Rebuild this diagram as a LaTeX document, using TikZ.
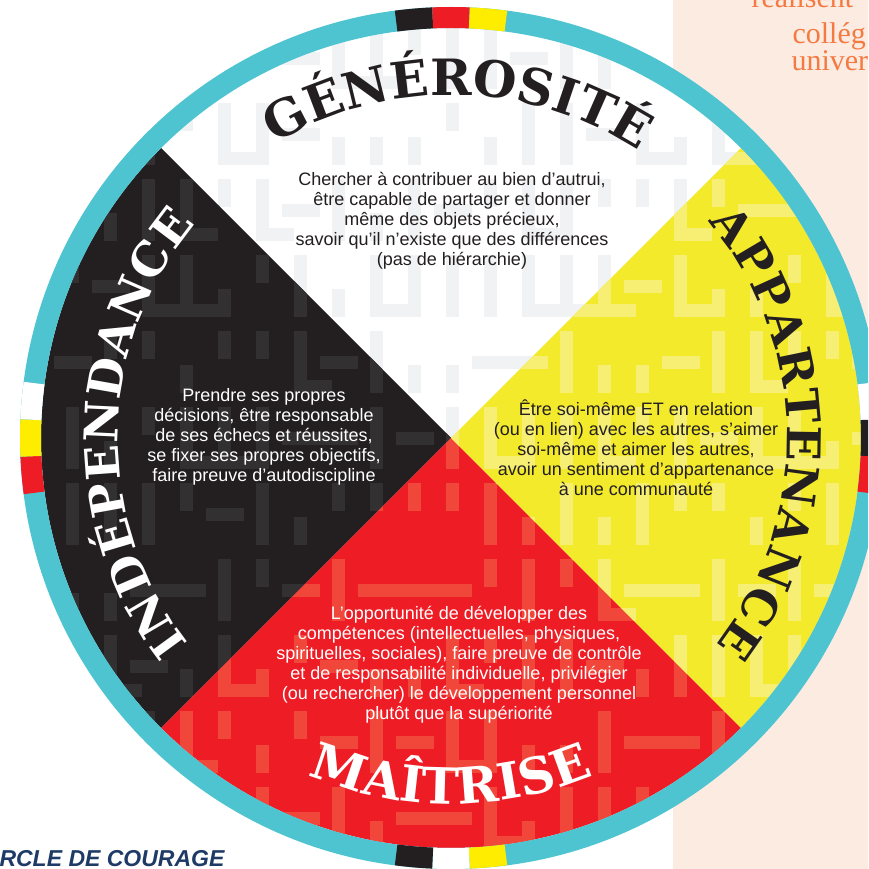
\documentclass[tikz,border=0pt]{standalone}
\usepackage{fontspec}
\setmainfont{Liberation Sans}
\newfontfamily\wheelfont{DejaVu Serif}
\newfontfamily\notefont{Liberation Serif}
\usetikzlibrary{decorations.text}
\definecolor{ringteal}{HTML}{4FC4D1}
\definecolor{wblack}{HTML}{231F20}
\definecolor{wred}{HTML}{EE1C25}
\definecolor{wyellow}{HTML}{F4EA2C}
\definecolor{mkyellow}{HTML}{FFED00}
\definecolor{mazeW}{HTML}{F1F2F4}
\definecolor{mazeK}{HTML}{323031}
\definecolor{mazeR}{HTML}{F1473A}
\definecolor{mazeY}{HTML}{F7EF74}
\definecolor{panel}{HTML}{FBEBE1}
\definecolor{noteorange}{HTML}{F47A42}
\definecolor{navy}{HTML}{1E3A66}
\newcommand\titlesize{\wheelfont\bfseries\fontsize{50}{50}\selectfont}
\newcommand\titlesizelong{\wheelfont\bfseries\fontsize{46.5}{46.5}\selectfont}
% maze of light bars, same layout in every quarter
\newcommand\mazebars[1]{%
  \pgfmathsetseed{2718}%
  \foreach \i in {0,...,22}{%
    \foreach \j in {0,...,11}{%
      \pgfmathrandominteger{\mz}{0}{4}%
      \ifcase\mz\relax
        \fill[#1] (28+38*\i,20+76*\j) rectangle ++(13,62);
      \or
        \fill[#1] (28+38*\i,20+76*\j) rectangle ++(13,28);
      \or
        \fill[#1] (28+38*\i,54+76*\j) rectangle ++(13,28);
      \or
        \fill[#1] (16+38*\i,44+76*\j) rectangle ++(38,13);
      \else
        \fill[#1] (28+38*\i,20+76*\j) rectangle ++(13,62);
        \fill[#1] (41+38*\i,20+76*\j) rectangle ++(25,13);
      \fi
    }%
  }%
}
\begin{document}
\begin{tikzpicture}[x=1pt,y=1pt,
  bodytext/.style={align=center,font=\fontsize{18}{20}\selectfont},
  wheeltitle/.style={decorate,decoration={text along path,text align={fit to path}}}
  ]
\useasboundingbox (0,0) rectangle (868,869);
\clip (0,0) rectangle (868,869);
% side panel
\fill[panel] (673,0) rectangle (868,869);
\node[anchor=base west,text=noteorange,font=\notefont\fontsize{30}{30}\selectfont] (note1) at (748,861) {réalisent};
\node[anchor=base west,text=noteorange,font=\notefont\fontsize{30}{30}\selectfont] (note2) at (789,825) {collég};
\node[anchor=base west,text=noteorange,font=\notefont\fontsize{30}{30}\selectfont] (note3) at (788,798) {univer};
\node[anchor=base west,text=navy,font=\bfseries\itshape\fontsize{23}{23}\selectfont] (caption) at (-4,2) {RCLE DE COURAGE};
% wheel
\coordinate (c) at (451,431);
\foreach \ang/\base/\bar in {90/white/mazeW,180/wblack/mazeK,270/wred/mazeR,0/wyellow/mazeY}{
  \begin{scope}
    \clip (c) -- ([shift={(\ang-45:410)}]c) arc[start angle=\ang-45,end angle=\ang+45,radius=410] -- cycle;
    \fill[\base] (c) circle[radius=415];
    \mazebars{\bar}
  \end{scope}
}
\draw[ringteal,line width=21] (c) circle[radius=420.5];
\foreach \ang/\col in {97.5/wblack,92.5/wred,87.5/mkyellow,
                       7.5/white,2.5/wblack,-2.5/wred,
                       187.5/wred,182.5/mkyellow,177.5/white,
                       277.5/mkyellow,272.5/white,267.5/wblack}
  \draw[\col,line width=21] ([shift={(\ang:420.5)}]c) arc[start angle=\ang,end angle=\ang-5,radius=420.5];
% titles on arcs
\path[wheeltitle,decoration={text color=wblack,text={|\titlesize|GÉNÉROSITÉ}}]
  ([shift={(121:343)}]c) arc[start angle=121,end angle=58,radius=343];
\path[wheeltitle,decoration={text color=white,text={|\titlesizelong|INDÉPENDANCE}}]
  ([shift={(218:333)}]c) arc[start angle=218,end angle=140,radius=333];
\path[wheeltitle,decoration={text color=wblack,text={|\titlesizelong|APPARTENANCE}}]
  ([shift={(40:336)}]c) arc[start angle=40,end angle=-38,radius=336];
\path[wheeltitle,decoration={text color=white,text={|\titlesize|MAÎTRISE}}]
  ([shift={(247:366)}]c) arc[start angle=247,end angle=293,radius=366];
% texts of the quarters
\node[bodytext,text=wblack] (generosity) at (452,648) {Chercher à contribuer au bien d’autrui,\\être capable de partager et donner\\même des objets précieux,\\savoir qu’il n’existe que des différences\\(pas de hiérarchie)};
\node[bodytext,text=white] (independence) at (264,432) {Prendre ses propres\\décisions, être responsable\\de ses échecs et réussites,\\se fixer ses propres objectifs,\\faire preuve d'autodiscipline};
\node[bodytext,text=wblack] (belonging) at (636,421) {Être soi-même ET en relation\\(ou en lien) avec les autres, s’aimer\\soi-même et aimer les autres,\\avoir un sentiment d’appartenance\\à une communauté};
\node[bodytext,text=white] (mastery) at (459,204) {L'opportunité de développer des\\compétences (intellectuelles, physiques,\\spirituelles, sociales), faire preuve de contrôle\\et de responsabilité individuelle, privilégier\\(ou rechercher) le développement personnel\\plutôt que la supériorité};
\end{tikzpicture}
\end{document}
